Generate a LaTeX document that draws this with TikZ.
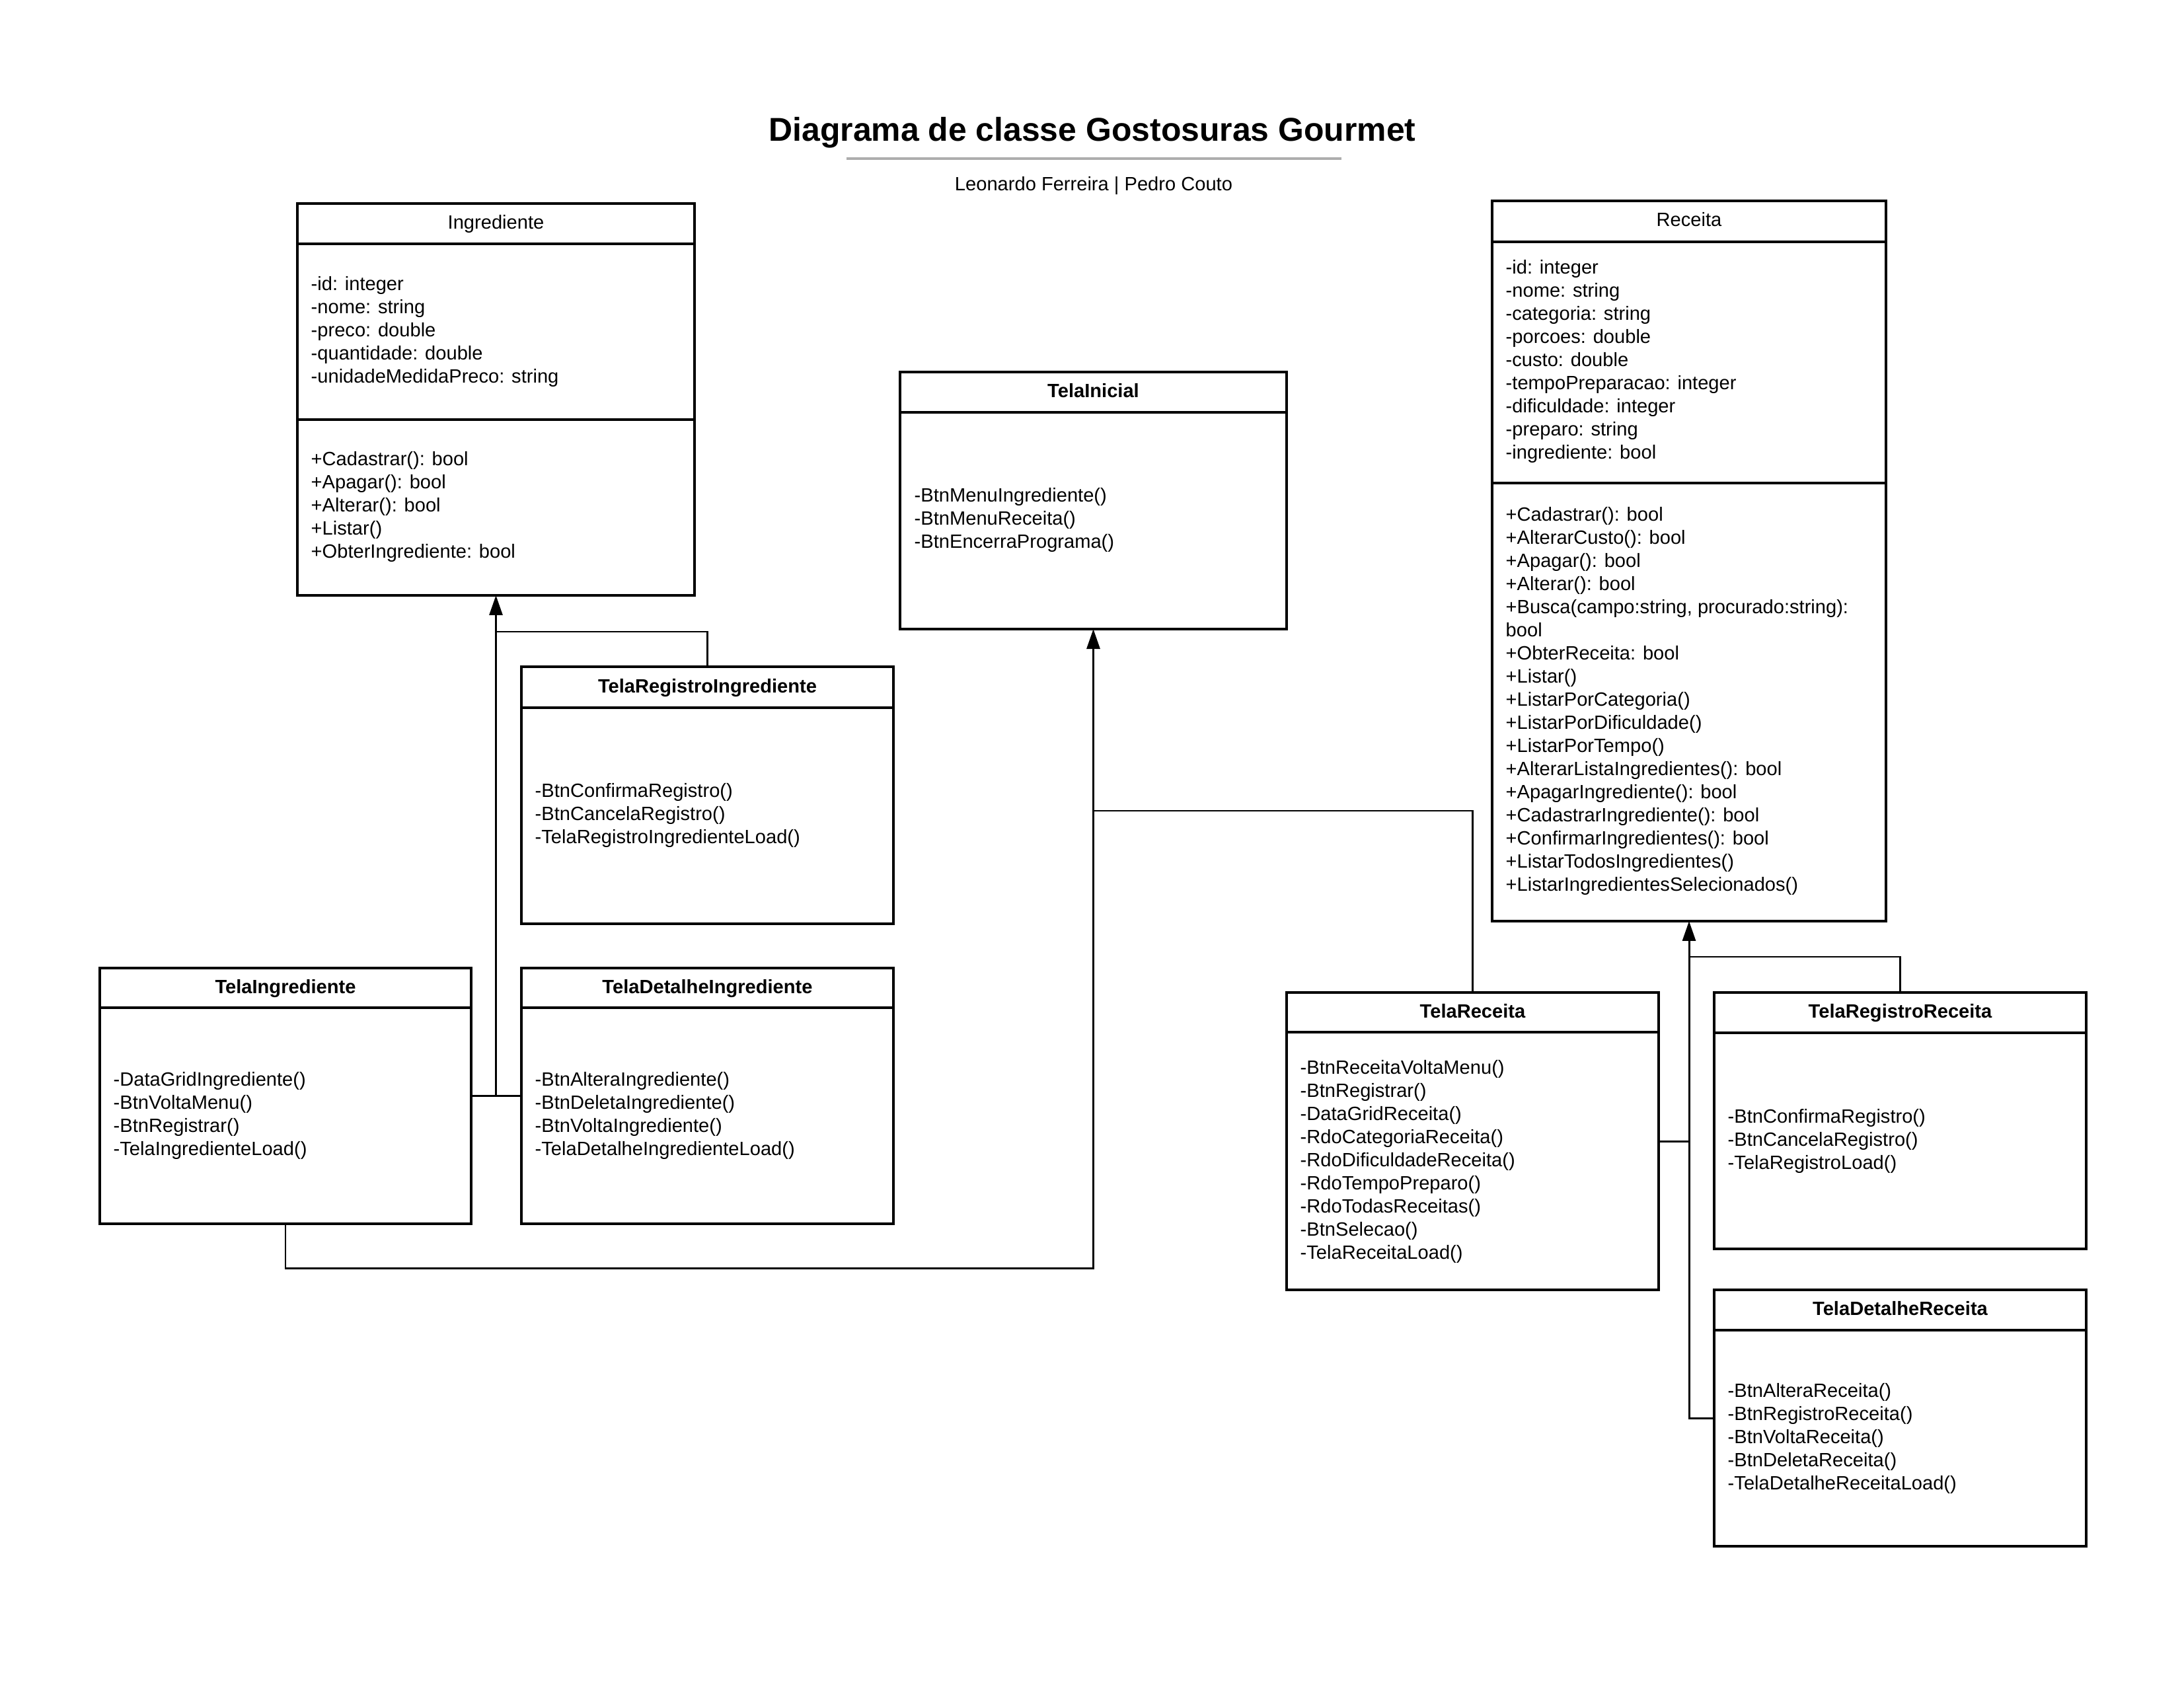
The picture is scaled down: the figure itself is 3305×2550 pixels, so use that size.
\documentclass[tikz,border=0pt]{standalone}
\usepackage{fontspec}
\setmainfont{Liberation Sans}
\usetikzlibrary{arrows.meta}
\begin{document}
\begin{tikzpicture}[x=0.1mm,y=-0.1mm,
  umlbox/.style={draw=black, line width=0.95pt, inner sep=0pt, outer sep=0pt, anchor=north west},
  hdr/.style={line width=0.95pt},
  ttl/.style={font=\fontsize{8.28}{9.96}\selectfont\bfseries, inner sep=0pt, anchor=center},
  ttlr/.style={font=\fontsize{8.28}{9.96}\selectfont, inner sep=0pt, anchor=center},
  txt/.style={font=\fontsize{8.28}{9.96}\selectfont, align=left, inner sep=0pt, anchor=north west},
  conn/.style={line width=0.85pt, draw=black},
  arr/.style={conn, -{Triangle[length=3mm,width=2mm]}}]
\fill[white] (0,0) rectangle (3305,2550);
\useasboundingbox (0,0) rectangle (3305,2550);

% title
\node[font=\fontsize{14.2}{17}\selectfont\bfseries, inner sep=0pt, anchor=base] (title) at (1653,214) {Diagrama de classe Gostosuras Gourmet};
\coordinate (gl1) at (1281,240);
\coordinate (gl2) at (2030,240);
\draw[line width=0.9pt, draw=black!32] (gl1) -- (gl2);
\node[font=\fontsize{8.28}{9.96}\selectfont, inner sep=0pt, anchor=base] (subtitle) at (1655,289) {Leonardo Ferreira | Pedro Couto};

% Ingrediente
\node[umlbox, minimum width=60.1mm, minimum height=59.3mm] (Ingrediente) at (450,308) {};
\draw[hdr] ([yshift=-6.1mm]Ingrediente.north west) -- ([yshift=-6.1mm]Ingrediente.north east);
\draw[hdr] ([yshift=-32.7mm]Ingrediente.north west) -- ([yshift=-32.7mm]Ingrediente.north east);
\node[ttlr] (IngT) at (750.5,339.5) {\strut Ingrediente};
\node[txt] (IngA) at (470,414) {\strut -id: integer\\-nome: string\\-preco: double\\-quantidade: double\\-unidadeMedidaPreco: string};
\node[txt] (IngM) at (470,679.5) {\strut +Cadastrar(): bool\\+Apagar(): bool\\+Alterar(): bool\\+Listar()\\+ObterIngrediente: bool};

% Receita
\node[umlbox, minimum width=59.6mm, minimum height=109mm] (Receita) at (2258,304) {};
\draw[hdr] ([yshift=-6.2mm]Receita.north west) -- ([yshift=-6.2mm]Receita.north east);
\draw[hdr] ([yshift=-42.7mm]Receita.north west) -- ([yshift=-42.7mm]Receita.north east);
\node[ttlr] (RecT) at (2556,336) {\strut Receita};
\node[txt] (RecA) at (2278,389.5) {\strut -id: integer\\-nome: string\\-categoria: string\\-porcoes: double\\-custo: double\\-tempoPreparacao: integer\\-dificuldade: integer\\-preparo: string\\-ingrediente: bool};
\node[txt] (RecM) at (2278,763.5) {\strut +Cadastrar(): bool\\+AlterarCusto(): bool\\+Apagar(): bool\\+Alterar(): bool\\+Busca(campo:string, procurado:string):\\bool\\+ObterReceita: bool\\+Listar()\\+ListarPorCategoria()\\+ListarPorDificuldade()\\+ListarPorTempo()\\+AlterarListaIngredientes(): bool\\+ApagarIngrediente(): bool\\+CadastrarIngrediente(): bool\\+ConfirmarIngredientes(): bool\\+ListarTodosIngredientes()\\+ListarIngredientesSelecionados()};

% TelaInicial
\node[umlbox, minimum width=58.5mm, minimum height=38.9mm] (TelaInicial) at (1362,563) {};
\draw[hdr] ([yshift=-6.1mm]TelaInicial.north west) -- ([yshift=-6.1mm]TelaInicial.north east);
\node[ttl] (TIT) at (1654.5,594.5) {\strut TelaInicial};
\node[txt] (TIA) at (1383,734.5) {\strut -BtnMenuIngrediente()\\-BtnMenuReceita()\\-BtnEncerraPrograma()};

% TelaRegistroIngrediente
\node[umlbox, minimum width=56.3mm, minimum height=38.9mm] (TelaRegistroIngrediente) at (789,1009) {};
\draw[hdr] ([yshift=-6.2mm]TelaRegistroIngrediente.north west) -- ([yshift=-6.2mm]TelaRegistroIngrediente.north east);
\node[ttl] (TRIT) at (1070.5,1041) {\strut TelaRegistroIngrediente};
\node[txt] (TRIA) at (809,1181.5) {\strut -BtnConfirmaRegistro()\\-BtnCancelaRegistro()\\-TelaRegistroIngredienteLoad()};

% TelaIngrediente
\node[umlbox, minimum width=56.2mm, minimum height=38.7mm] (TelaIngrediente) at (151,1465) {};
\draw[hdr] ([yshift=-6mm]TelaIngrediente.north west) -- ([yshift=-6mm]TelaIngrediente.north east);
\node[ttl] (TIngT) at (432,1496) {\strut TelaIngrediente};
\node[txt] (TIngA) at (171,1618.5) {\strut -DataGridIngrediente()\\-BtnVoltaMenu()\\-BtnRegistrar()\\-TelaIngredienteLoad()};

% TelaDetalheIngrediente
\node[umlbox, minimum width=56.3mm, minimum height=38.7mm] (TelaDetalheIngrediente) at (789,1465) {};
\draw[hdr] ([yshift=-6mm]TelaDetalheIngrediente.north west) -- ([yshift=-6mm]TelaDetalheIngrediente.north east);
\node[ttl] (TDIT) at (1070.5,1496) {\strut TelaDetalheIngrediente};
\node[txt] (TDIA) at (809,1618.5) {\strut -BtnAlteraIngrediente()\\-BtnDeletaIngrediente()\\-BtnVoltaIngrediente()\\-TelaDetalheIngredienteLoad()};

% TelaReceita
\node[umlbox, minimum width=56.3mm, minimum height=45mm] (TelaReceita) at (1947,1502) {};
\draw[hdr] ([yshift=-6mm]TelaReceita.north west) -- ([yshift=-6mm]TelaReceita.north east);
\node[ttl] (TRT) at (2228.5,1533) {\strut TelaReceita};
\node[txt] (TRA) at (1967,1600.5) {\strut -BtnReceitaVoltaMenu()\\-BtnRegistrar()\\-DataGridReceita()\\-RdoCategoriaReceita()\\-RdoDificuldadeReceita()\\-RdoTempoPreparo()\\-RdoTodasReceitas()\\-BtnSelecao()\\-TelaReceitaLoad()};

% TelaRegistroReceita
\node[umlbox, minimum width=56.3mm, minimum height=38.8mm] (TelaRegistroReceita) at (2594,1502) {};
\draw[hdr] ([yshift=-6.1mm]TelaRegistroReceita.north west) -- ([yshift=-6.1mm]TelaRegistroReceita.north east);
\node[ttl] (TRRT) at (2875.5,1533.5) {\strut TelaRegistroReceita};
\node[txt] (TRRA) at (2614,1674.5) {\strut -BtnConfirmaRegistro()\\-BtnCancelaRegistro()\\-TelaRegistroLoad()};

% TelaDetalheReceita
\node[umlbox, minimum width=56.3mm, minimum height=38.8mm] (TelaDetalheReceita) at (2594,1952) {};
\draw[hdr] ([yshift=-6.1mm]TelaDetalheReceita.north west) -- ([yshift=-6.1mm]TelaDetalheReceita.north east);
\node[ttl] (TDRT) at (2875.5,1983.5) {\strut TelaDetalheReceita};
\node[txt] (TDRA) at (2614,2089.5) {\strut -BtnAlteraReceita()\\-BtnRegistroReceita()\\-BtnVoltaReceita()\\-BtnDeletaReceita()\\-TelaDetalheReceitaLoad()};

% connectors to Ingrediente
\coordinate (jI) at (Ingrediente.south |- TelaIngrediente.east);
\draw[conn] (TelaIngrediente.east) -- (TelaDetalheIngrediente.west);
\draw[arr] (jI) -- (Ingrediente.south);
\draw[conn] (TelaRegistroIngrediente.north) |- ([yshift=-5.5mm]Ingrediente.south);

% connectors to TelaInicial
\draw[arr] (TelaIngrediente.south) -- ++(0,67) -| (TelaInicial.south);
\draw[conn] (TelaReceita.north) |- ([yshift=-27.5mm]TelaInicial.south);

% connectors to Receita
\draw[arr] (TelaDetalheReceita.west) -| (Receita.south);
\draw[conn] (TelaReceita.east) -- (TelaReceita.east -| Receita.south);
\draw[conn] (TelaRegistroReceita.north) |- ([yshift=-5.4mm]Receita.south);
\end{tikzpicture}
\end{document}
